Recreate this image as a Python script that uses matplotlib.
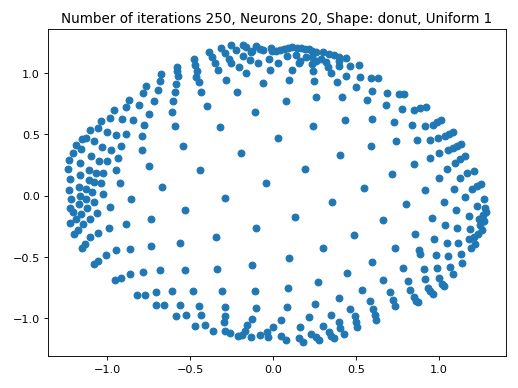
import numpy as np
import matplotlib
matplotlib.use("Agg")
import matplotlib.pyplot as plt

TITLE = "Number of iterations 250, Neurons 20, Shape: donut, Uniform 1"

# neuron weights, grouped by region of the plot
upper_left_x = [-0.674, -0.680, -0.766, -0.694, -0.786, -0.869, -0.718, -0.889, -0.811, -0.961,
                -0.747, -1.036, -0.982, -0.913, -0.845, -0.777, -1.106, -1.058, -1.000, -0.946,
                -0.885, -0.791, -1.153, -1.127, -1.082]
upper_left_y = [0.988, 0.936, 0.892, 0.860, 0.833, 0.781, 0.767, 0.718, 0.735, 0.696,
                0.667, 0.610, 0.629, 0.620, 0.615, 0.577, 0.531, 0.549, 0.520, 0.490,
                0.500, 0.482, 0.460, 0.473, 0.447]

top_x = [-0.255, -0.181, -0.312, -0.165, -0.225, -0.101, -0.080, -0.125, -0.060, -0.016,
         -0.008, 0.020, -0.388, -0.291, -0.181, -0.131, -0.372, -0.266, -0.141, -0.026,
         0.030, -0.477, -0.252, -0.091, -0.578, -0.469, -0.352, -0.207, -0.579, -0.459,
         -0.332, -0.020, -0.573, -0.463, -0.161, -0.285, -0.584, -0.447, -0.060, -0.593,
         -0.436, -0.221, -0.604, -0.610, -0.398, -0.107, -0.590, -0.318, 0.032,
         0.042, 0.066, 0.092, 0.116, 0.141, 0.167, 0.193, 0.217, 0.237, 0.261,
         0.298, 0.334, 0.368, 0.394, 0.439, 0.086, 0.137, 0.161, 0.197, 0.237,
         0.258, 0.288, 0.318, 0.394, 0.398, 0.463, 0.515, 0.157, 0.237, 0.241,
         0.328, 0.116, 0.247, 0.097, 0.348, 0.382, 0.439, 0.499, 0.523, 0.590,
         0.634, 0.599, 0.686, 0.080, 0.258, 0.418, 0.563, 0.680, 0.435, 0.599,
         0.730, 0.241, 0.741]
top_y = [1.230, 1.230, 1.202, 1.208, 1.186, 1.216, 1.194, 1.176, 1.186, 1.202,
         1.176, 1.181, 1.173, 1.159, 1.140, 1.167, 1.127, 1.113, 1.104, 1.113,
         1.080, 1.113, 1.078, 1.078, 1.051, 1.067, 1.078, 1.045, 1.018, 1.018,
         1.023, 1.023, 0.977, 0.963, 0.998, 0.941, 0.909, 0.922, 0.914, 0.841,
         0.841, 0.841, 0.773, 0.683, 0.732, 0.683, 0.563, 0.555, 0.473,
         1.186, 1.194, 1.202, 1.208, 1.202, 1.202, 1.194, 1.194, 1.176, 1.167,
         1.167, 1.153, 1.149, 1.127, 1.118, 1.140, 1.149, 1.100, 1.127, 1.127,
         1.100, 1.113, 1.086, 1.100, 1.059, 1.059, 1.064, 1.078, 1.072, 1.018,
         1.051, 1.023, 0.936, 0.941, 0.998, 0.922, 0.977, 0.887, 0.969, 0.958,
         0.958, 0.855, 0.833, 0.767, 0.800, 0.800, 0.778, 0.737, 0.615, 0.623,
         0.596, 0.563, 0.447]

upper_right_x = [0.756, 0.792, 0.777, 0.851, 0.887, 0.922, 0.837, 0.913, 0.961, 0.988,
                 1.012, 1.034, 1.062, 1.084, 0.994, 0.867, 0.947]
upper_right_y = [0.827, 0.827, 0.704, 0.696, 0.713, 0.724, 0.577, 0.569, 0.577, 0.596,
                 0.615, 0.487, 0.500, 0.514, 0.473, 0.451, 0.451]

left_x = [-1.032, -0.976, -0.917, -0.791, -1.187, -1.207, -1.157, -1.098, -1.233, -1.163,
          -1.052, -1.002, -0.937, -1.239, -1.112, -1.066, -1.026, -0.946, -0.750, -1.223,
          -1.163, -1.112, -1.082, -1.038, -0.925, -0.670, -1.233, -1.173, -1.127, -1.092,
          -1.026, -1.219, -1.167, -1.129, -1.082, -0.857, -1.223, -1.169, -1.123, -0.984,
          -1.207, -1.157, -1.062, -1.103, -1.223, -1.189, -1.147, -0.990, -0.889, -0.736,
          -1.203, -1.177, -1.103, -1.056, -1.153, -1.133, -0.946, -0.861, -0.736]
left_y = [0.392, 0.370, 0.406, 0.370, 0.414, 0.351, 0.378, 0.324, 0.288, 0.269,
          0.278, 0.278, 0.304, 0.215, 0.207, 0.188, 0.188, 0.207, 0.242, 0.133,
          0.169, 0.125, 0.112, 0.106, 0.106, 0.073, 0.043, 0.071, 0.051, 0.033,
          0.016, -0.024, -0.002, -0.024, -0.049, -0.024, -0.098, -0.065, -0.104, -0.092,
          -0.131, -0.147, -0.144, -0.188, -0.220, -0.193, -0.234, -0.267, -0.234, -0.188,
          -0.316, -0.283, -0.337, -0.302, -0.424, -0.392, -0.447, -0.433, -0.411]

inner_x = [-0.543, -0.195, -0.439, -0.044, -0.290, -0.533, -0.101, -0.342, -0.563,
           0.593, 0.404, 0.191, 0.714, 0.547, 0.352, 0.131, 0.660, 0.489, 0.302, 0.736]
inner_y = [0.406, 0.345, 0.207, 0.100, -0.016, -0.120, -0.267, -0.337, -0.386,
           0.406, 0.332, 0.220, 0.174, 0.065, -0.051, -0.171, -0.196, -0.321, -0.424, -0.424]

right_x = [0.998, 1.054, 1.082, 1.109, 1.135, 0.851, 0.947, 1.098, 1.129, 1.159,
           1.048, 0.998, 1.129, 1.169, 1.209, 0.917, 1.088, 1.199, 1.229, 1.255,
           0.803, 1.028, 1.154, 1.229, 1.269, 1.279, 1.104, 1.179, 1.239, 1.263,
           1.284, 0.958, 1.038, 1.109, 1.189, 1.249, 1.269, 0.857, 0.972, 1.048,
           1.115, 1.179, 1.209, 1.235, 1.260, 0.877, 1.195, 1.219]
right_y = [0.351, 0.370, 0.386, 0.406, 0.424, 0.256, 0.304, 0.269, 0.296, 0.324,
           0.215, 0.147, 0.141, 0.188, 0.202, 0.047, 0.051, 0.051, 0.079, 0.092,
           -0.071, -0.049, -0.011, -0.084, -0.030, -0.098, -0.117, -0.166, -0.193, -0.158,
           -0.131, -0.180, -0.239, -0.267, -0.275, -0.239, -0.207, -0.310, -0.357, -0.384,
           -0.384, -0.357, -0.337, -0.310, -0.283, -0.447, -0.424, -0.392]

lower_left_x = [-1.082, -1.058, -1.006, -0.952, -0.917, -0.861, -0.785, -0.684, -0.821, -0.771,
                -0.704, -0.704, -0.656]
lower_left_y = [-0.555, -0.533, -0.484, -0.688, -0.675, -0.642, -0.623, -0.610, -0.806, -0.806,
                -0.784, -0.892, -0.892]

bottom_x = [-0.533, -0.338, -0.125, -0.610, -0.483, -0.308, -0.107, -0.559, -0.447, -0.587,
            -0.527, -0.433, -0.291, -0.290, -0.298, -0.104, -0.129, -0.473, -0.412, -0.362,
            -0.291, -0.261, -0.211, -0.191, -0.171, -0.157, -0.131, -0.077, -0.036, -0.030,
            0.000,
            0.097, 0.596, 0.445, 0.273, 0.664, 0.092, 0.535, 0.704, 0.398, 0.253,
            0.584, 0.720, 0.086, 0.465, 0.604, 0.736, 0.046, 0.217, 0.348, 0.493,
            0.614, 0.620, 0.161, 0.298, 0.394, 0.499, 0.505, 0.046, 0.080, 0.157,
            0.181, 0.228, 0.258, 0.278, 0.334, 0.348, 0.368, 0.404, 0.428]
bottom_y = [-0.607, -0.602, -0.566, -0.778, -0.778, -0.778, -0.778, -0.892, -0.900, -0.977,
            -0.969, -0.969, -0.909, -0.982, -1.031, -0.914, -1.002, -1.059, -1.051, -1.100,
            -1.100, -1.118, -1.140, -1.132, -1.100, -1.056, -1.153, -1.137, -1.110, -1.153,
            -1.069,
            -0.512, -0.539, -0.629, -0.702, -0.688, -0.751, -0.770, -0.784, -0.833, -0.882,
            -0.860, -0.847, -0.909, -0.920, -0.920, -0.900, -1.010, -0.990, -0.969, -0.982,
            -0.969, -1.010, -1.072, -1.059, -1.029, -1.029, -1.072, -1.145, -1.173, -1.159,
            -1.194, -1.127, -1.153, -1.178, -1.110, -1.145, -1.159, -1.078, -1.127]

lower_right_x = [0.887, 0.982, 1.054, 1.135, 1.139, 0.786, 0.907, 0.988, 1.064, 1.082,
                 0.813, 0.913, 1.002, 1.018, 1.028, 0.827, 0.931, 0.947, 0.961, 0.847,
                 0.861, 0.873]
lower_right_y = [-0.479, -0.484, -0.492, -0.473, -0.547, -0.593, -0.602, -0.593, -0.582, -0.637,
                 -0.696, -0.683, -0.675, -0.718, -0.737, -0.773, -0.751, -0.778, -0.800, -0.827,
                 -0.855, -0.868]

xs = np.concatenate([upper_left_x, top_x, upper_right_x, left_x, inner_x, right_x,
                     lower_left_x, bottom_x, lower_right_x])
ys = np.concatenate([upper_left_y, top_y, upper_right_y, left_y, inner_y, right_y,
                     lower_left_y, bottom_y, lower_right_y])

fig = plt.figure(figsize=(6.4, 4.8), dpi=81)
ax = fig.add_axes([0.092, 0.0825, 0.884, 0.8402])
ax.scatter(xs, ys, s=36, color="#1f77b4")
ax.set_xlim(-1.36, 1.404)
ax.set_ylim(-1.306, 1.355)
ax.set_xticks([-1.0, -0.5, 0.0, 0.5, 1.0])
ax.set_yticks([-1.0, -0.5, 0.0, 0.5, 1.0])
ax.set_title(TITLE)
fig.savefig("out.png", dpi=81)
